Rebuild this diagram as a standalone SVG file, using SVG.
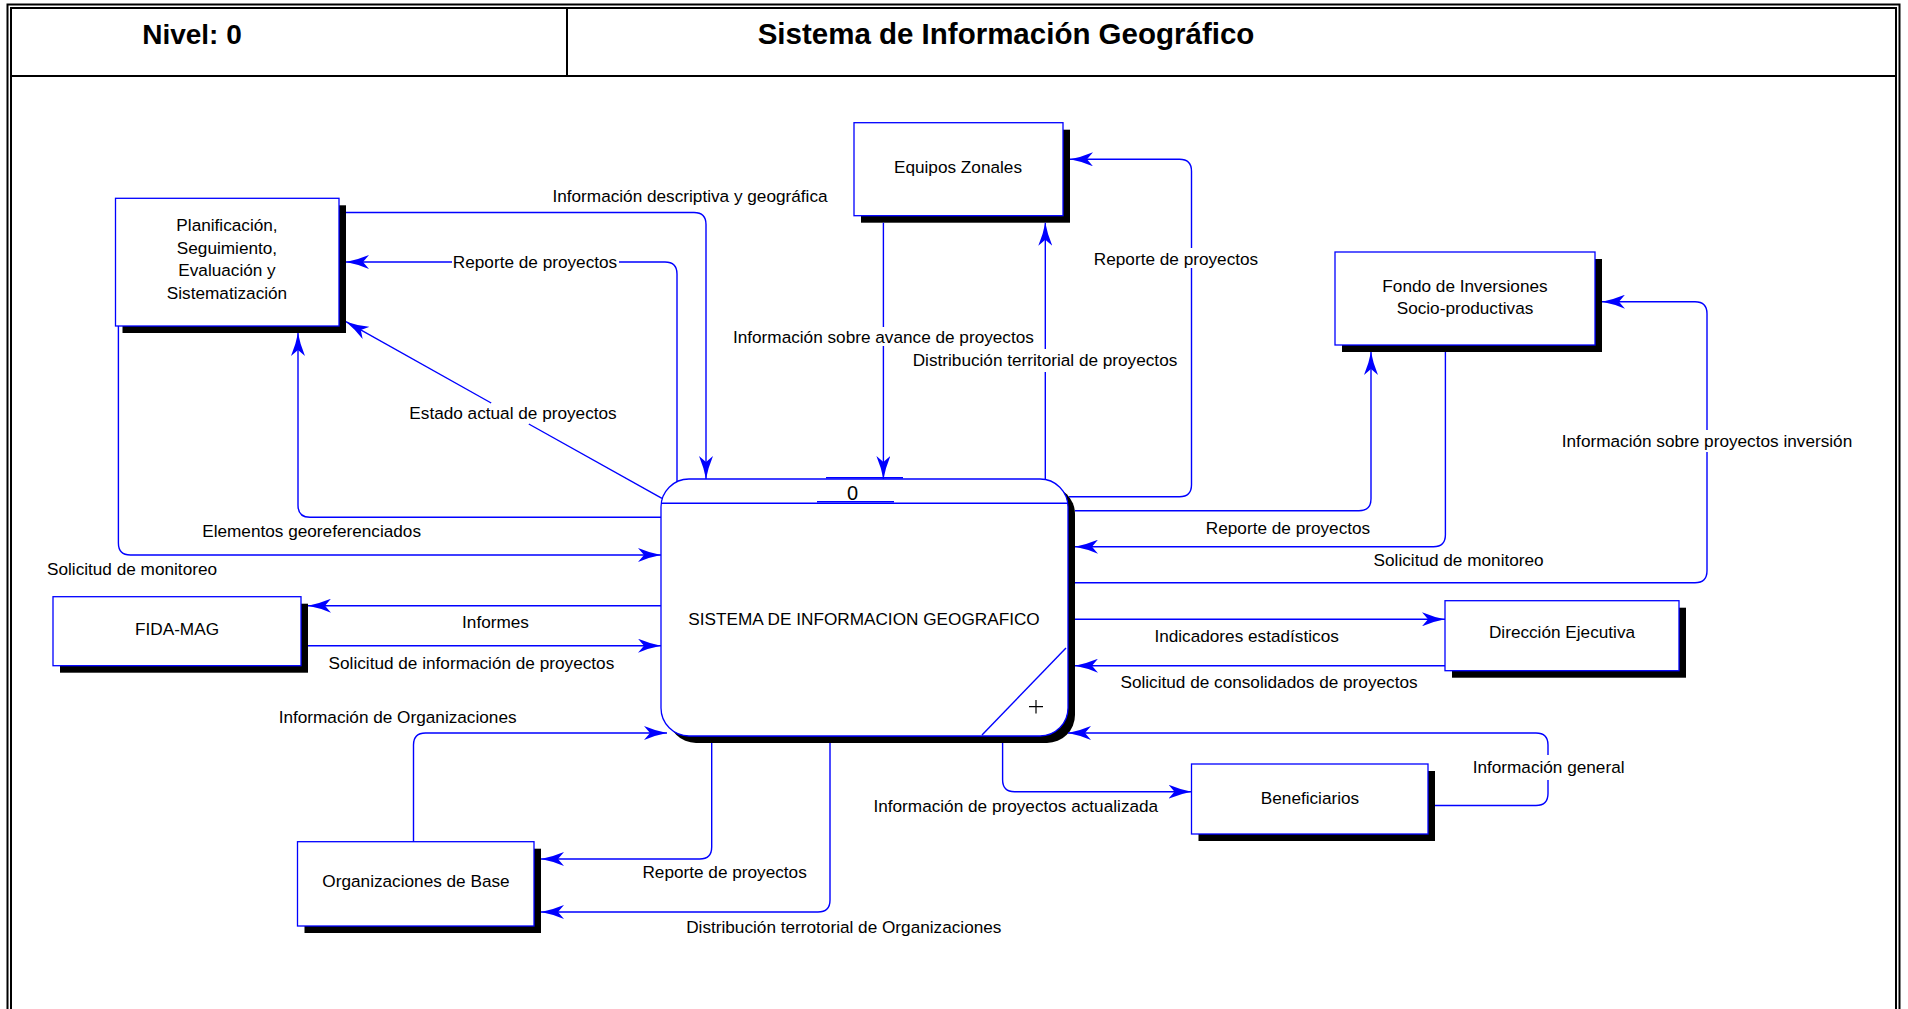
<svg xmlns="http://www.w3.org/2000/svg" width="1908" height="1009" viewBox="0 0 1908 1009">
  <defs>
    <style>
      .frame { fill: none; stroke: #000; stroke-width: 2; }
      .box { fill: #fff; stroke: #0000ff; stroke-width: 1.3; }
      .shadow { fill: #000; }
      .flow { fill: none; stroke: #0000ff; stroke-width: 1.4; }
      .arrow { marker-end: url(#arr); }
      .lbl { font-family: "Liberation Sans", Arial, sans-serif; font-size: 17.2px; fill: #000; text-anchor: middle; }
      .hdr { font-family: "Liberation Sans", Arial, sans-serif; font-size: 28px; font-weight: bold; fill: #000; text-anchor: middle; }
    </style>
    <marker id="arr" markerUnits="userSpaceOnUse" markerWidth="24" markerHeight="14" viewBox="0 0 24 14" refX="23" refY="7" orient="auto">
      <path d="M23,7 Q12,5 0,0 L6,7 L0,14 Q12,9 23,7 Z" fill="#0000ff"/>
    </marker>
  </defs>

  <rect width="1908" height="1009" fill="#fff"/>

  <!-- page frame and title block -->
  <g id="frame">
    <path class="frame" d="M7.5,1015 V4.5 H1899.5 V1015"/>
    <path class="frame" d="M11,1015 V8 H1896 V1015"/>
    <path class="frame" d="M11,76 H1896"/>
    <path class="frame" d="M567,8 V76"/>
    <text class="hdr" x="192" y="44">Nivel: 0</text>
    <text class="hdr" x="1006" y="44" style="font-size:29.5px">Sistema de Información Geográfico</text>
  </g>

  <!-- external entities -->
  <g id="planificacion">
    <rect class="shadow" x="122.5" y="205.3" width="223.5" height="127.7"/>
    <rect class="box" x="115.5" y="198.3" width="223.5" height="127.7"/>
    <text class="lbl" x="227" y="231">Planificación,</text>
    <text class="lbl" x="227" y="254">Seguimiento,</text>
    <text class="lbl" x="227" y="276">Evaluación y</text>
    <text class="lbl" x="227" y="299">Sistematización</text>
  </g>

  <g id="equipos-zonales">
    <rect class="shadow" x="861" y="129.7" width="209" height="93"/>
    <rect class="box" x="854" y="122.7" width="209" height="93"/>
    <text class="lbl" x="958" y="173">Equipos Zonales</text>
  </g>

  <g id="fondo-inversiones">
    <rect class="shadow" x="1342" y="259" width="260" height="93"/>
    <rect class="box" x="1335" y="252" width="260" height="93"/>
    <text class="lbl" x="1465" y="292">Fondo de Inversiones</text>
    <text class="lbl" x="1465" y="314">Socio-productivas</text>
  </g>

  <g id="fida-mag">
    <rect class="shadow" x="60" y="603.7" width="248" height="69"/>
    <rect class="box" x="53" y="596.7" width="248" height="69"/>
    <text class="lbl" x="177" y="635">FIDA-MAG</text>
  </g>

  <g id="direccion-ejecutiva">
    <rect class="shadow" x="1452" y="607.7" width="234" height="70"/>
    <rect class="box" x="1445" y="600.7" width="234" height="70"/>
    <text class="lbl" x="1562" y="638">Dirección Ejecutiva</text>
  </g>

  <g id="beneficiarios">
    <rect class="shadow" x="1198.5" y="771" width="236.5" height="70"/>
    <rect class="box" x="1191.5" y="764" width="236.5" height="70"/>
    <text class="lbl" x="1310" y="804">Beneficiarios</text>
  </g>

  <g id="organizaciones-base">
    <rect class="shadow" x="304.5" y="848.7" width="236.5" height="84.3"/>
    <rect class="box" x="297.5" y="841.7" width="236.5" height="84.3"/>
    <text class="lbl" x="416" y="887">Organizaciones de Base</text>
  </g>

  <!-- process 0 -->
  <g id="proceso-0">
    <rect class="shadow" x="668" y="486" width="407" height="257" rx="28" ry="28"/>
    <rect class="box" x="661" y="479" width="407" height="257" rx="28" ry="28"/>
    <path class="flow" d="M661,503.3 H1068"/>
    <path class="flow" d="M826,477.7 H903 M817,501.7 H894"/>
    <text class="lbl" x="852.6" y="500" style="font-size:20px">0</text>
    <text class="lbl" x="864" y="625">SISTEMA DE INFORMACION GEOGRAFICO</text>
    <path class="flow" d="M1066,648 L982,735"/>
    <path d="M1029,706.7 H1043 M1036,700 V713.4" fill="none" stroke="#000" stroke-width="1.2"/>
  </g>

  <!-- data flows -->
  <g id="flujos">
    <path class="flow arrow" d="M346,212.5 H694 Q706,212.5 706,224.5 V479"/>
    <path class="flow" d="M677,482 V274 Q677,262 665,262 H619"/>
    <path class="flow arrow" d="M452,262 H346"/>
    <path class="flow" d="M662,498.3 L528.8,424"/>
    <path class="flow arrow" d="M491.2,403 L346,321.7"/>
    <path class="flow arrow" d="M661,517.3 H310 Q298,517.3 298,505.3 V333"/>
    <path class="flow arrow" d="M118.4,326 V543 Q118.4,555 130.4,555 H661"/>
    <path class="flow arrow" d="M661,605.7 H308"/>
    <path class="flow arrow" d="M308,645.7 H661"/>
    <path class="flow arrow" d="M413.5,841.7 V745 Q413.5,733 425.5,733 H667"/>
    <path class="flow arrow" d="M711.7,743 V847 Q711.7,859 699.7,859 H541"/>
    <path class="flow arrow" d="M830,743 V900 Q830,912 818,912 H541"/>
    <path class="flow arrow" d="M1002.6,743 V779.7 Q1002.6,791.7 1014.6,791.7 H1191.5"/>
    <path class="flow" d="M1435,805.5 H1536 Q1548,805.5 1548,793.5 V780"/>
    <path class="flow arrow" d="M1548,755 V745 Q1548,733 1536,733 H1068"/>
    <path class="flow arrow" d="M1075,619.3 H1445"/>
    <path class="flow arrow" d="M1445,665.7 H1075"/>
    <path class="flow" d="M1075,582.7 H1695 Q1707,582.7 1707,570.7 V452"/>
    <path class="flow arrow" d="M1707,430 V313.7 Q1707,301.7 1695,301.7 H1602"/>
    <path class="flow arrow" d="M1445.4,352 V534.7 Q1445.4,546.7 1433.4,546.7 H1075"/>
    <path class="flow arrow" d="M1075,510.7 H1359 Q1371,510.7 1371,498.7 V352"/>
    <path class="flow" d="M1069,496.7 H1179.5 Q1191.5,496.7 1191.5,484.7 V268"/>
    <path class="flow arrow" d="M1191.5,248 V171.3 Q1191.5,159.3 1179.5,159.3 H1070"/>
    <path class="flow" d="M883.4,222.7 V327"/>
    <path class="flow arrow" d="M883.4,346 V479"/>
    <path class="flow" d="M1045.3,480 V372"/>
    <path class="flow arrow" d="M1045.3,349 V222.7"/>
  </g>

  <!-- flow labels -->
  <g id="etiquetas">
    <text class="lbl" x="690" y="202">Información descriptiva y geográfica</text>
    <text class="lbl" x="535" y="268">Reporte de proyectos</text>
    <text class="lbl" x="513" y="419">Estado actual de proyectos</text>
    <text class="lbl" x="311.6" y="537">Elementos georeferenciados</text>
    <text class="lbl" x="132" y="575">Solicitud de monitoreo</text>
    <text class="lbl" x="495.5" y="628">Informes</text>
    <text class="lbl" x="471.4" y="669">Solicitud de información de proyectos</text>
    <text class="lbl" x="397.6" y="723">Información de Organizaciones</text>
    <text class="lbl" x="724.6" y="878">Reporte de proyectos</text>
    <text class="lbl" x="843.8" y="933">Distribución terrotorial de Organizaciones</text>
    <text class="lbl" x="1015.8" y="811.5">Información de proyectos actualizada</text>
    <text class="lbl" x="1548.6" y="773">Información general</text>
    <text class="lbl" x="1246.6" y="642">Indicadores estadísticos</text>
    <text class="lbl" x="1269" y="688">Solicitud de consolidados de proyectos</text>
    <text class="lbl" x="1707" y="447">Información sobre proyectos inversión</text>
    <text class="lbl" x="1458.6" y="566">Solicitud de monitoreo</text>
    <text class="lbl" x="1288" y="534">Reporte de proyectos</text>
    <text class="lbl" x="1176" y="264.5">Reporte de proyectos</text>
    <text class="lbl" x="883.4" y="343">Información sobre avance de proyectos</text>
    <text class="lbl" x="1045" y="366">Distribución territorial de proyectos</text>
  </g>
</svg>
